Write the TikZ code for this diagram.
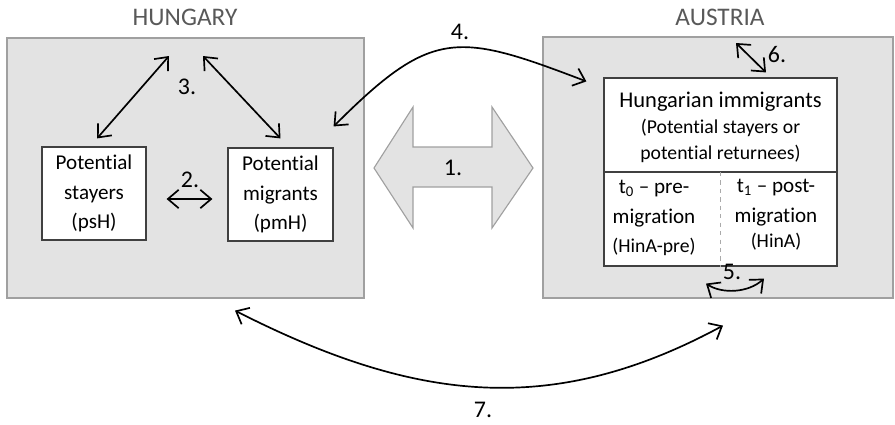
\documentclass[tikz,border=0pt]{standalone}
\usepackage{fontspec}
\setmainfont{Carlito}[Ligatures={TeX,NoCommon}]
\usetikzlibrary{arrows.meta,calc}
\definecolor{mypanel}{RGB}{227,227,227}
\definecolor{myedge}{RGB}{160,160,160}
\definecolor{mytitle}{RGB}{89,89,89}
\definecolor{mybox}{RGB}{64,64,64}
\definecolor{mydash}{RGB}{170,170,170}
\tikzset{
  panel/.style={draw=myedge, fill=mypanel, line width=0.8pt, inner sep=0pt},
  bbox/.style={draw=mybox, fill=white, line width=0.8pt, align=center, inner sep=0pt},
  country/.style={text=mytitle, font=\fontsize{18}{22}\selectfont},
  num/.style={font=\fontsize{17}{20}\selectfont, inner sep=0pt},
  biarrow/.style={{Straight Barb[length=2.7mm,width=4.6mm]}-{Straight Barb[length=2.7mm,width=4.6mm]}, line width=1.2pt},
}
\begin{document}
\begin{tikzpicture}[x=0.025cm, y=-0.025cm, font=\fontsize{15}{21}\selectfont]
\useasboundingbox (0,0) rectangle (895,424);

\node[panel, minimum width=8.925cm, minimum height=6.5cm] (hun) at (185.5,168) {};
\node[panel, minimum width=8.75cm, minimum height=6.525cm] (aut) at (718,167.5) {};
\node[country] (hunlab) at (185,17) {HUNGARY};
\node[country] (autlab) at (720,17) {AUSTRIA};

\node[bbox, minimum width=2.6cm, minimum height=2.325cm] (psH) at (94,193.5) {Potential\\stayers\\(psH)};
\node[bbox, minimum width=2.625cm, minimum height=2.325cm] (pmH) at (280.5,194.5) {Potential\\migrants\\(pmH)};

\node[bbox, minimum width=5.825cm, minimum height=4.7cm] (imm) at (720.5,172) {};
\draw[draw=mybox, line width=0.8pt] (imm.west) -- (imm.east);
\draw[draw=mydash, dashed, line width=0.6pt] (imm.center) -- (imm.south);
\node[align=center] (immtop) at (720.5,127) {{\fontsize{16}{20}\selectfont Hungarian immigrants}\\[-2pt]
  {\fontsize{14}{18}\selectfont (Potential stayers or}\\[-3pt]{\fontsize{14}{18}\selectfont potential returnees)}};
\node[align=center] (pre) at (654,218) {t\textsubscript{0} -- pre-\\migration\\{\fontsize{14}{18}\selectfont (HinA-pre)}};
\node[align=center] (post) at (776,215) {t\textsubscript{1} -- post-\\migration\\[-3pt]{\fontsize{14}{18}\selectfont (HinA)}};

\draw[draw=myedge, fill=mypanel, line width=0.8pt] (374,168) -- (413,107) -- (413,147) -- (492,147) -- (492,107)
  -- (533,168) -- (492,228) -- (492,187) -- (413,187) -- (413,228) -- cycle;

\coordinate (p3l) at (169,56);
\coordinate (p3r) at (203,56);
\coordinate (p6) at (736,43);

\draw[biarrow] ($(psH.east)+(20,5.5)$) -- ($(pmH.west)+(-15,4.5)$);
\draw[biarrow] ($(psH.north)+(3,-8)$) -- (p3l);
\draw[biarrow] (p3r) -- ($(pmH.north)+(0,-9)$);
\draw[biarrow] ($(pmH.north east)+(0,-21)$) .. controls (432,28) and (457,32) .. ($(imm.north west)+(-17,4)$);
\draw[biarrow] ($(imm.south)+(-14.5,17)$) .. controls (722,294) and (748,293) .. ($(imm.south)+(43.5,12)$);
\draw[biarrow] (p6) -- ($(imm.north)+(45.5,-5)$);
\draw[biarrow] ($(hun.south)+(49.5,12)$) .. controls (413,401) and (550,419) .. ($(aut.south)+(5,27)$);

\node[num] (n1) at (453,168) {1.};
\node[num] (n2) at (190,180) {2.};
\node[num] (n3) at (187,87) {3.};
\node[num] (n4) at (460,32) {4.};
\node[num] (n5) at (732,272) {5.};
\node[num] (n6) at (777,55) {6.};
\node[num] (n7) at (483,410) {7.};
\end{tikzpicture}
\end{document}
